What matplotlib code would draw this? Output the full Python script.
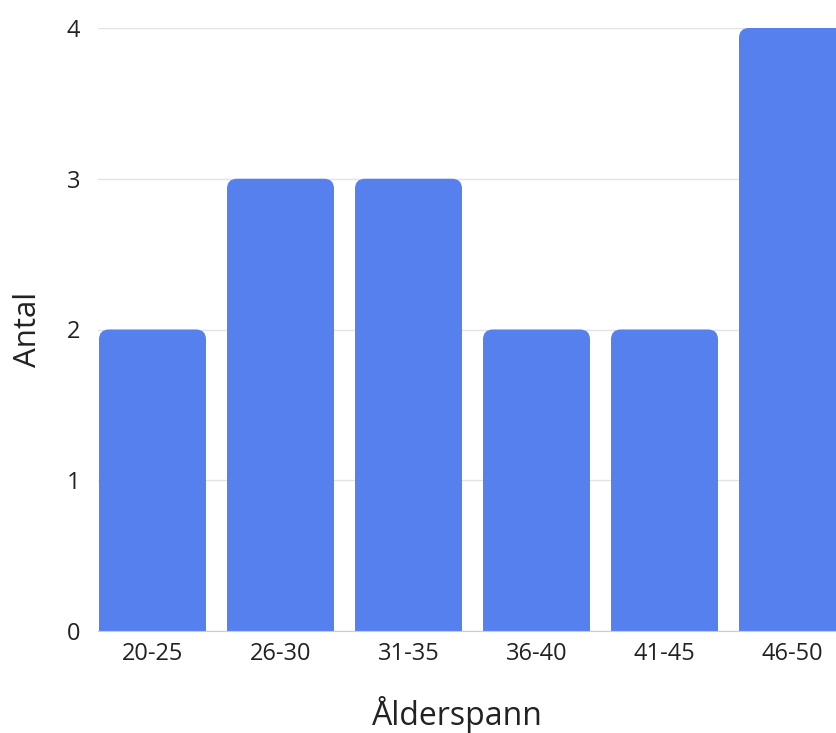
import matplotlib
matplotlib.use("Agg")
from matplotlib import pyplot as plt
from matplotlib.patches import FancyBboxPatch

categories = ["20-25", "26-30", "31-35", "36-40", "41-45", "46-50"]
counts = [2, 3, 3, 2, 2, 4]
y_ticks = [0, 1, 2, 3, 4]

bar_color = "#5680ee"
text_color = "#222222"

plt.rcParams["font.family"] = ["Open Sans", "DejaVu Sans"]

fig = plt.figure(figsize=(8.37, 7.33), dpi=100)
ax = fig.add_axes([98 / 837, (733 - 631) / 733, (837 - 98) / 837, (631 - 28) / 733])

bar_width = 107 / 128
x_left = -bar_width / 2 - 1 / 128
x_right = x_left + (837 - 98) / 128
ax.set_xlim(x_left, x_right)
ax.set_ylim(0, 4)

# pixels per data unit, used to keep the corner rounding circular
px_x = 128
px_y = 603 / 4
radius_px = 10

for i, value in enumerate(counts):
    rounding = radius_px / px_x
    patch = FancyBboxPatch(
        (i - bar_width / 2, -0.3), bar_width, value + 0.3,
        boxstyle=f"round,pad=0,rounding_size={rounding}",
        mutation_aspect=px_x / px_y,
        facecolor=bar_color, edgecolor="none", zorder=3,
    )
    ax.add_patch(patch)

ax.set_yticks(y_ticks)
ax.set_xticks(range(len(categories)))
ax.set_xticklabels(categories)
ax.grid(axis="y", color="#e3e3e3", linewidth=1, zorder=0)
ax.tick_params(axis="both", length=0, labelsize=17, colors=text_color)
ax.tick_params(axis="y", pad=13)
ax.tick_params(axis="x", pad=8)

for side in ["top", "right", "left"]:
    ax.spines[side].set_visible(False)
ax.spines["bottom"].set_color("#cccccc")
ax.spines["bottom"].set_zorder(4)

ax.set_ylabel("Antal", fontsize=22.5, color=text_color, labelpad=16.5)
ax.set_xlabel("Ålderspann", fontsize=23, color=text_color, labelpad=21.5,
              x=(457 - 98) / (837 - 98))

fig.savefig("out.png", dpi=100)
